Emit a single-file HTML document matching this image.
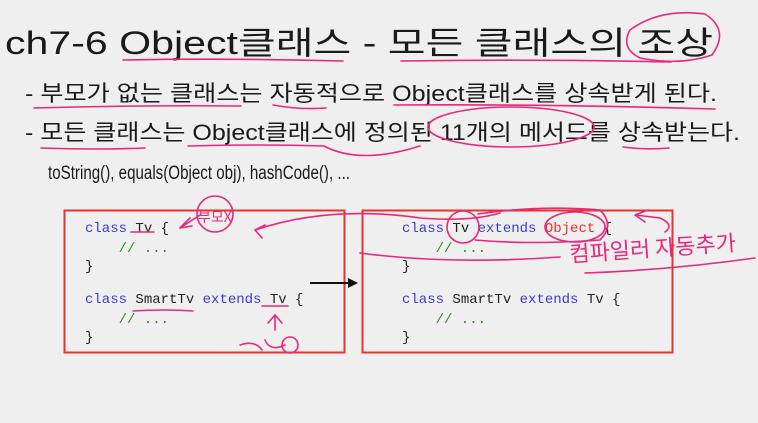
<!DOCTYPE html>
<html><head><meta charset="utf-8"><style>
html,body{margin:0;padding:0;background:#efefef;}
svg{display:block;}
</style></head><body>
<svg width="758" height="423" viewBox="0 0 758 423" xmlns="http://www.w3.org/2000/svg">
<rect width="758" height="423" fill="#efefef"/>
<g font-family="'Liberation Sans','Noto Sans CJK KR',sans-serif" fill="#1a1a1a">
<text x="5" y="54" font-size="32" textLength="708" lengthAdjust="spacingAndGlyphs">ch7-6 Object클래스 - 모든 클래스의 조상</text>
<text x="25" y="101" font-size="22" textLength="692" lengthAdjust="spacingAndGlyphs">- 부모가 없는 클래스는 자동적으로 Object클래스를 상속받게 된다.</text>
<text x="25" y="140" font-size="22" textLength="715" lengthAdjust="spacingAndGlyphs">- 모든 클래스는 Object클래스에 정의된 11개의 메서드를 상속받는다.</text>
<text x="48" y="179" font-size="19" textLength="302" lengthAdjust="spacingAndGlyphs">toString(), equals(Object obj), hashCode(), ...</text>
</g>
<rect x="64.5" y="210.5" width="280" height="142" fill="none" stroke="#e8332a" stroke-width="2"/>
<rect x="362.5" y="210.5" width="310" height="142" fill="none" stroke="#e8332a" stroke-width="2"/>
<line x1="310" y1="283" x2="350" y2="283" stroke="#111" stroke-width="2"/>
<polygon points="358,283 348,278 348,288" fill="#111"/>
<g font-family="'Liberation Mono','DejaVu Sans Mono',monospace" font-size="14">
<text x="85" y="232"><tspan fill="#3b3bd6">class</tspan><tspan fill="#222"> Tv {</tspan></text>
<text x="85" y="252" fill="#2e8b2e" xml:space="preserve">    // ...</text>
<text x="85" y="270" fill="#222">}</text>
<text x="85" y="303"><tspan fill="#3b3bd6">class</tspan><tspan fill="#222"> SmartTv </tspan><tspan fill="#3b3bd6">extends</tspan><tspan fill="#222"> Tv {</tspan></text>
<text x="85" y="323" fill="#2e8b2e" xml:space="preserve">    // ...</text>
<text x="85" y="341" fill="#222">}</text>
<text x="402" y="232"><tspan fill="#3b3bd6">class</tspan><tspan fill="#222"> Tv </tspan><tspan fill="#3b3bd6">extends</tspan><tspan fill="#e8332a"> Object</tspan><tspan fill="#222"> {</tspan></text>
<text x="402" y="252" fill="#2e8b2e" xml:space="preserve">    // ...</text>
<text x="402" y="270" fill="#222">}</text>
<text x="402" y="303"><tspan fill="#3b3bd6">class</tspan><tspan fill="#222"> SmartTv </tspan><tspan fill="#3b3bd6">extends</tspan><tspan fill="#222"> Tv {</tspan></text>
<text x="402" y="323" fill="#2e8b2e" xml:space="preserve">    // ...</text>
<text x="402" y="341" fill="#222">}</text>
</g>
<g fill="none" stroke="#e8287a" stroke-width="1.6" stroke-linecap="round">
<path d="M123 60 Q230 58 343 61"/>
<path d="M401 61 Q540 59 671 62"/>
<path d="M630 30 Q660 8 705 14 Q730 30 712 55 Q680 66 640 58 Q620 48 630 30"/>
<path d="M34 108 Q140 105 241 106"/>
<path d="M273 105 Q300 110 326 108"/>
<path d="M394 105 Q550 104 715 109"/>
<path d="M41 148 Q95 150 145 148"/>
<path d="M188 146 Q260 144 324 146 Q360 165 420 146"/>
<ellipse cx="511" cy="127" rx="83" ry="20"/>
<path d="M623 147 Q645 150 669 148"/>
<path d="M131 232 L154 232"/>
<path d="M133 311 Q165 309 193 311"/>
<path d="M262 306 L288 306"/>
<path d="M275 330 L275 316 M268 323 L275 315 L282 323"/>
<path d="M240 345 Q255 340 262 350 M265 340 Q270 352 285 345"/>
<circle cx="290" cy="345" r="8"/>
<ellipse cx="215" cy="214" rx="18" ry="18"/>
<path d="M180 228 L200 215 M180 228 L190 218 M180 228 L192 226"/>
<path d="M255 230 Q330 205 420 218 Q470 222 500 213"/>
<path d="M255 230 L265 225 M255 230 L262 238"/>
<ellipse cx="463" cy="227" rx="16" ry="16"/>
<path d="M478 214 Q540 205 600 210 Q615 225 600 240 Q530 245 475 240"/>
<ellipse cx="575" cy="227" rx="30" ry="15"/>
<path d="M635 215 L660 218 Q675 225 665 232 M635 215 L648 210 M635 215 L645 222"/>
<path d="M360 253 Q450 265 560 257"/>
<path d="M585 273 Q670 270 755 258"/>
</g>
<text x="570" y="262" font-family="'Noto Sans CJK KR',sans-serif" font-size="22" fill="#e8287a" transform="rotate(-4 570 262)">컴파일러 자동추가</text>
<text x="198" y="222" font-family="'Noto Sans CJK KR',sans-serif" font-size="14" fill="#e8287a">부모X</text>
</svg>
</body></html>
